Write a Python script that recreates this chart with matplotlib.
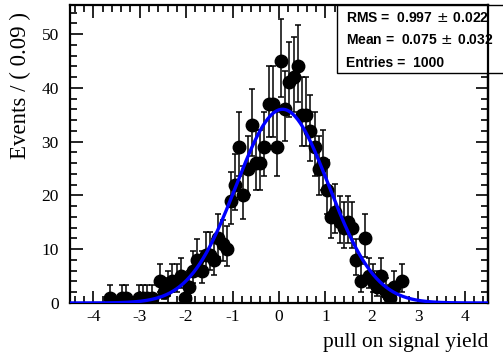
import numpy as np
import matplotlib
matplotlib.use('Agg')
import matplotlib.pyplot as plt
from matplotlib.patches import Rectangle
from matplotlib.ticker import MultipleLocator

# histogram of pulls, 100 bins of 0.09 between -4.5 and 4.5 (only filled bins)
x_lo = -4.5
bin_width = 0.09
bin_idx = [9, 12, 13, 16, 17, 18, 19, 21, 22, 23, 24, 25, 26, 27, 28, 29, 30,
           31, 32, 33, 34, 35, 36, 37, 38, 39, 40, 41, 42, 43, 44, 45, 46, 47,
           48, 49, 50, 51, 52, 53, 54, 55, 56, 57, 58, 59, 60, 61, 62, 63, 64,
           65, 66, 67, 68, 69, 70, 71, 72, 73, 74, 75, 76, 77, 79]
counts = [1, 1, 1, 1, 1, 1, 1, 4, 2, 3, 4, 4, 5, 1, 3, 6, 8,
          6, 9, 9, 8, 12, 11, 10, 19, 22, 29, 20, 25, 33, 26, 26, 29, 37,
          37, 29, 45, 36, 41, 42, 44, 35, 35, 32, 29, 25, 26, 21, 16, 17, 15,
          14, 15, 14, 8, 4, 12, 5, 4, 3, 5, 2, 1, 3, 4]

# gaussian fit result
fit_mean = 0.075
fit_sigma = 0.997
n_entries = 1000

stats_lines = ["RMS =  0.997$\\,\\pm\\,$0.022",
               "Mean =  0.075$\\,\\pm\\,$0.032",
               "Entries =  1000"]

# --- derived
idx = np.array(bin_idx)
n = np.array(counts, dtype=float)
xc = x_lo + (idx + 0.5) * bin_width
# classical poisson interval (Gehrels approx)
up = n + np.sqrt(n + 0.75) + 1
lo = n * (1 - 1 / (9 * n) - 1 / (3 * np.sqrt(n))) ** 3
yerr = [n - lo, up - n]

xs = np.linspace(-4.5, 4.5, 500)
norm = n_entries * bin_width / (np.sqrt(2 * np.pi) * fit_sigma)
ys = norm * np.exp(-0.5 * ((xs - fit_mean) / fit_sigma) ** 2)

fig = plt.figure(figsize=(5.03, 3.53), dpi=100)
ax = fig.add_axes([70 / 503, 50 / 353, 418 / 503, 298 / 353])

ax.errorbar(xc, n, yerr=yerr, fmt='o', color='black', ms=9,
            elinewidth=1.1, capsize=2.4, capthick=1.1, zorder=2)
ax.plot(xs, ys, color='#0000ff', lw=2.4, zorder=3)

ax.set_xlim(-4.5, 4.5)
ax.set_ylim(0, 55.4)
ax.xaxis.set_minor_locator(MultipleLocator(0.2))
ax.yaxis.set_minor_locator(MultipleLocator(2))
ax.tick_params(which='both', direction='in', top=True, right=True,
               width=1.2, labelsize=12.5)
ax.tick_params(axis='x', pad=4)
ax.tick_params(axis='y', pad=8)
ax.tick_params(which='major', length=9)
ax.tick_params(which='minor', length=5)
ax.set_xticks(np.arange(-4, 5, 1))
ax.set_xticklabels([str(v) for v in range(-4, 5)], fontfamily='Liberation Serif')
ax.set_yticks(np.arange(0, 60, 10))
ax.set_yticklabels([str(v) for v in range(0, 60, 10)], fontfamily='Liberation Serif')
for s in ax.spines.values():
    s.set_linewidth(1.6)

ax.set_xlabel('pull on signal yield', fontfamily='Liberation Serif',
              fontsize=15.5, loc='right', labelpad=6)
ax.set_ylabel('Events / ( 0.09 )', fontfamily='Liberation Serif',
              fontsize=16.5, loc='top')
ax.yaxis.set_label_coords(-0.093, 0.975)
ax.yaxis.label.set_horizontalalignment('right')

# stats box
box = Rectangle((337 / 503, (353 - 73) / 353), 0.4, 68 / 353,
                transform=fig.transFigure, facecolor='white',
                edgecolor='black', lw=1.0, clip_on=False, zorder=2.6)
ax.add_patch(box)
for k, line in enumerate(stats_lines):
    ax.text(346 / 503, (353 - 18 - 22.5 * k) / 353, line,
            transform=fig.transFigure, fontsize=10, fontweight='bold',
            fontfamily='Liberation Sans', va='center', ha='left',
            zorder=2.65, clip_on=False)
ax.plot([1, 1], [0, 1], transform=ax.transAxes, color='black', lw=1.6,
        clip_on=False, zorder=2.7)

fig.savefig('out.png', dpi=100)
